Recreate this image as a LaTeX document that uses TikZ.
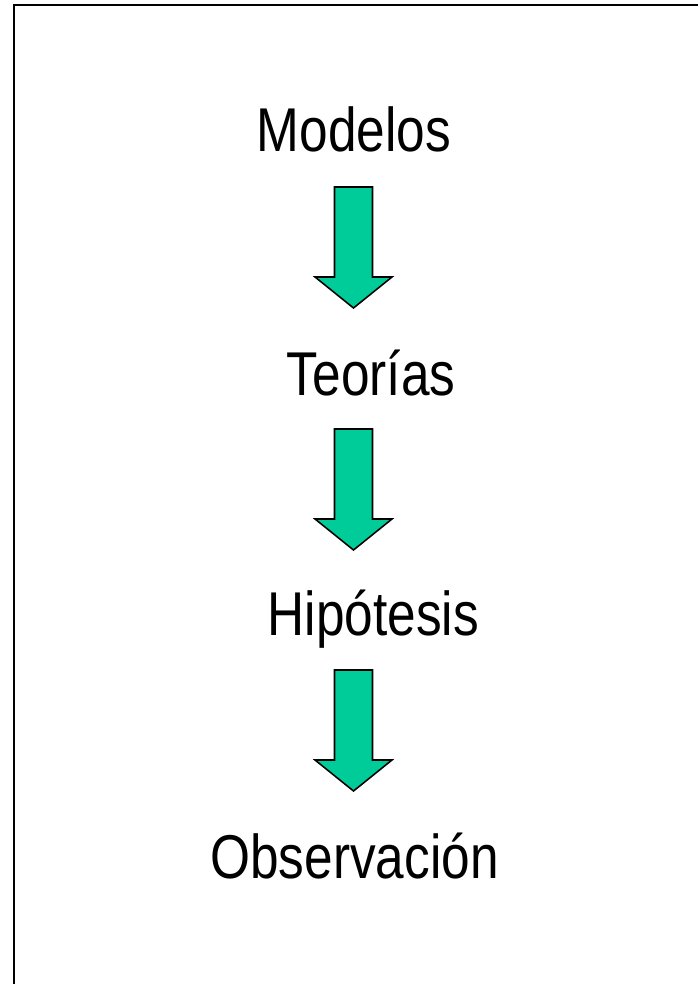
\documentclass[tikz,border=0pt]{standalone}
\usepackage{fontspec}
\setmainfont{Liberation Sans}[FakeStretch=0.83]
\usepackage{xcolor,tikz}
\definecolor{verde}{HTML}{00CC99}

\begin{document}
\begin{tikzpicture}[x=0.025cm,y=-0.025cm,
  etapa/.style={inner sep=0pt,anchor=base,font=\fontsize{44}{50}\selectfont},
  flecha/.style={draw=black,fill=verde,line width=1.1pt,line join=miter}]
  \useasboundingbox (0,0) rectangle (698,984);
  \draw[line width=1.4pt] (14,984) -- (14,5) -- (698,5);
  \node[etapa] (mod) at (354,152) {Modelos};
  \node[etapa] (teo) at (371,395) {Teorías};
  \node[etapa] (hip) at (373.5,635) {Hipótesis};
  \node[etapa] (obs) at (354.5,878) {Observación};
  \coordinate (f1) at (353.5,187);
  \coordinate (f2) at (353.5,429);
  \coordinate (f3) at (353.5,670);
  \foreach \f in {f1,f2,f3}
    \draw[flecha] (\f) +(-19,0) -- +(19,0) -- +(19,90) -- +(38.5,90) -- +(0,121)
      -- +(-38.5,90) -- +(-19,90) -- cycle;
\end{tikzpicture}
\end{document}
